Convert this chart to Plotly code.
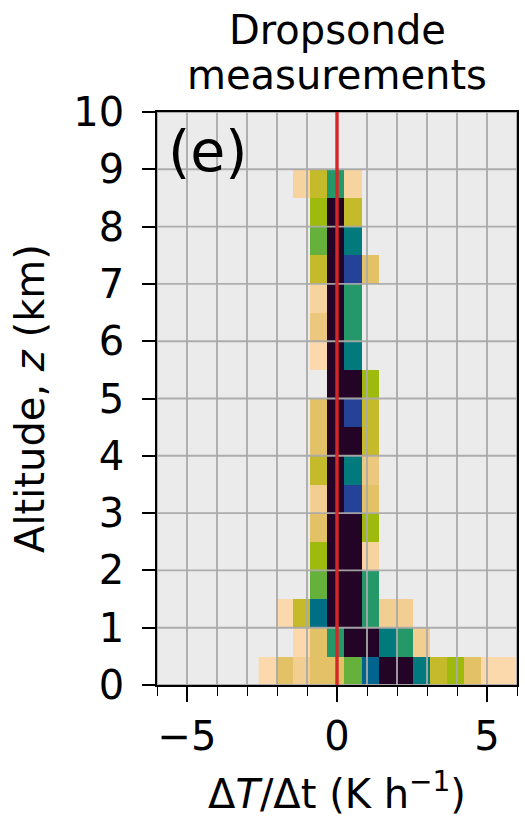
import plotly.graph_objects as go

# Bin edges of the 2-D histogram (heating rate, K/h) and altitude (km)
x_edges = [-2.61, -2.04, -1.47, -0.90, -0.33, 0.24, 0.81, 1.38, 1.95,
           2.52, 3.09, 3.66, 4.23, 4.80, 5.37, 5.94]
y_edges = [0.0, 0.5, 1.0, 1.5, 2.0, 2.5, 3.0, 3.5, 4.0, 4.5,
           5.0, 5.5, 6.0, 6.5, 7.0, 7.5, 8.0, 8.5, 9.0]

N = None
# counts per cell (relative frequency level), rows from bottom (0-0.5 km) upward
row_00 = [1, 3, 2, 3, 3, 6, 9, 11, 11, 8, 4, 5, 3, 1, 1]
row_01 = [N, N, 1, 3, 7, 11, 11, 8, 7, 2, N, N, N, N, N]
row_02 = [N, 1, 4, 8.5, 11, 11, 7, 2, 2, N, N, N, N, N, N]
row_03 = [N, N, N, 6, 11, 11, 7, N, N, N, N, N, N, N, N]
row_04 = [N, N, N, 5, 11, 11, 1.5, N, N, N, N, N, N, N, N]
row_05 = [N, N, N, 3, 11, 11, 5, N, N, N, N, N, N, N, N]
row_06 = [N, N, N, 2, 11, 10, 3, N, N, N, N, N, N, N, N]
row_07 = [N, N, N, 4, 11, 8, 2.5, N, N, N, N, N, N, N, N]
row_08 = [N, N, N, 3, 11, 11, 4, N, N, N, N, N, N, N, N]
row_09 = [N, N, N, 3, 11, 10, 4, N, N, N, N, N, N, N, N]
row_10 = [N, N, N, N, 11, 11, 5, N, N, N, N, N, N, N, N]
row_11 = [N, N, N, 1, 11, 8, N, N, N, N, N, N, N, N, N]
row_12 = [N, N, N, 2.5, 11, 7, N, N, N, N, N, N, N, N, N]
row_13 = [N, N, N, 1.5, 11, 7, N, N, N, N, N, N, N, N, N]
row_14 = [N, N, N, 4, 11, 10, 3, N, N, N, N, N, N, N, N]
row_15 = [N, N, N, 6, 11, 8, N, N, N, N, N, N, N, N, N]
row_16 = [N, N, N, 5, 11, 4, N, N, N, N, N, N, N, N, N]
row_17 = [N, N, 1.5, 4, 7, 1.5, N, N, N, N, N, N, N, N, N]

counts = [row_00, row_01, row_02, row_03, row_04, row_05, row_06, row_07, row_08,
          row_09, row_10, row_11, row_12, row_13, row_14, row_15, row_16, row_17]

x_ticks_major = [-5, 0, 5]
x_grid = [-6, -5, -4, -3, -2, -1, 0, 1, 2, 3, 4, 5, 6]
y_ticks = [0, 1, 2, 3, 4, 5, 6, 7, 8, 9, 10]
x_range = [-6, 6]
y_range = [0, 10]
zero_line_x = 0

level_colors = ["rgb(251,217,172)", "rgb(243,206,146)", "rgb(226,193,103)",
                "rgb(196,186,42)", "rgb(158,186,12)", "rgb(102,176,60)",
                "rgb(36,152,104)", "rgb(0,122,124)", "rgb(0,100,142)",
                "rgb(36,66,152)", "rgb(36,4,38)"]
zmin, zmax = 1, 11
colorscale = [[i / (len(level_colors) - 1), c] for i, c in enumerate(level_colors)]

FONT = "DejaVu Sans"
fig = go.Figure()
fig.add_trace(go.Heatmap(x=x_edges, y=y_edges, z=counts, zmin=zmin, zmax=zmax,
                         colorscale=colorscale, showscale=False, hoverongaps=False))

GRID = "rgba(170,170,170,0.95)"
shapes = []
for gx in x_grid:
    shapes.append(dict(type="line", xref="x", yref="y", x0=gx, x1=gx,
                       y0=y_range[0], y1=y_range[1],
                       line=dict(color=GRID, width=1.9), layer="above"))
for gy in y_ticks:
    shapes.append(dict(type="line", xref="x", yref="y", x0=x_range[0], x1=x_range[1],
                       y0=gy, y1=gy, line=dict(color=GRID, width=1.9), layer="above"))
# red zero-heating reference line on top
shapes.append(dict(type="line", xref="x", yref="y", x0=zero_line_x, x1=zero_line_x,
                   y0=y_range[0], y1=y_range[1],
                   line=dict(color="#d62728", width=3.4), layer="above"))

W, H = 525, 819
L, R, T, B = 157, 8, 112, 134
PLOT_BOTTOM_REF, PH = 685, 573
PLOT_LEFT_REF, PW = 157, 360

def py(ypx):
    return (PLOT_BOTTOM_REF - ypx) / PH

def px(xpx):
    return (xpx - PLOT_LEFT_REF) / PW

fig.update_layout(
    width=W, height=H, margin=dict(l=L, r=R, t=T, b=B, autoexpand=False),
    paper_bgcolor="white", plot_bgcolor="#ebebeb",
    font=dict(family=FONT, size=40, color="black"),
    showlegend=False, shapes=shapes,
    xaxis=dict(range=x_range, tickvals=x_ticks_major, ticks="outside", ticklen=15,
               tickwidth=1.6, tickcolor="black", showgrid=False, zeroline=False,
               showline=True, linecolor="black", linewidth=1.6, mirror=True,
               tickfont=dict(size=40, family=FONT),
               minor=dict(dtick=1, tick0=0, ticks="outside", ticklen=9, tickwidth=1.3,
                          tickcolor="black", showgrid=False),
               title=dict(text="Δ<i>T</i>/Δt (K h<sup>−1</sup>)", font=dict(size=40, family=FONT),
                          standoff=22)),
    yaxis=dict(range=y_range, tickvals=y_ticks, ticks="outside", ticklen=13,
               tickwidth=1.6, tickcolor="black", showgrid=False, zeroline=False,
               showline=True, linecolor="black", linewidth=1.6, mirror=True,
               tickfont=dict(size=40, family=FONT), ticklabelstandoff=10,
               title=dict(text="Altitude, <i>z</i> (km)", font=dict(size=40, family=FONT),
                          standoff=16)),
    annotations=[
        dict(text="Dropsonde", x=0.5, y=py(30), xref="paper", yref="paper",
             xanchor="center", yanchor="middle", showarrow=False, font=dict(size=40)),
        dict(text="measurements", x=0.5, y=py(75), xref="paper", yref="paper",
             xanchor="center", yanchor="middle", showarrow=False, font=dict(size=40)),
        dict(text="(e)", x=px(166), y=py(151), xref="paper", yref="paper",
             xanchor="left", yanchor="middle", showarrow=False, font=dict(size=57)),
    ],
)

fig.write_html("out.html", config={"displayModeBar": False},
               post_script="document.body.style.margin='0px';document.body.style.overflow='hidden';")
